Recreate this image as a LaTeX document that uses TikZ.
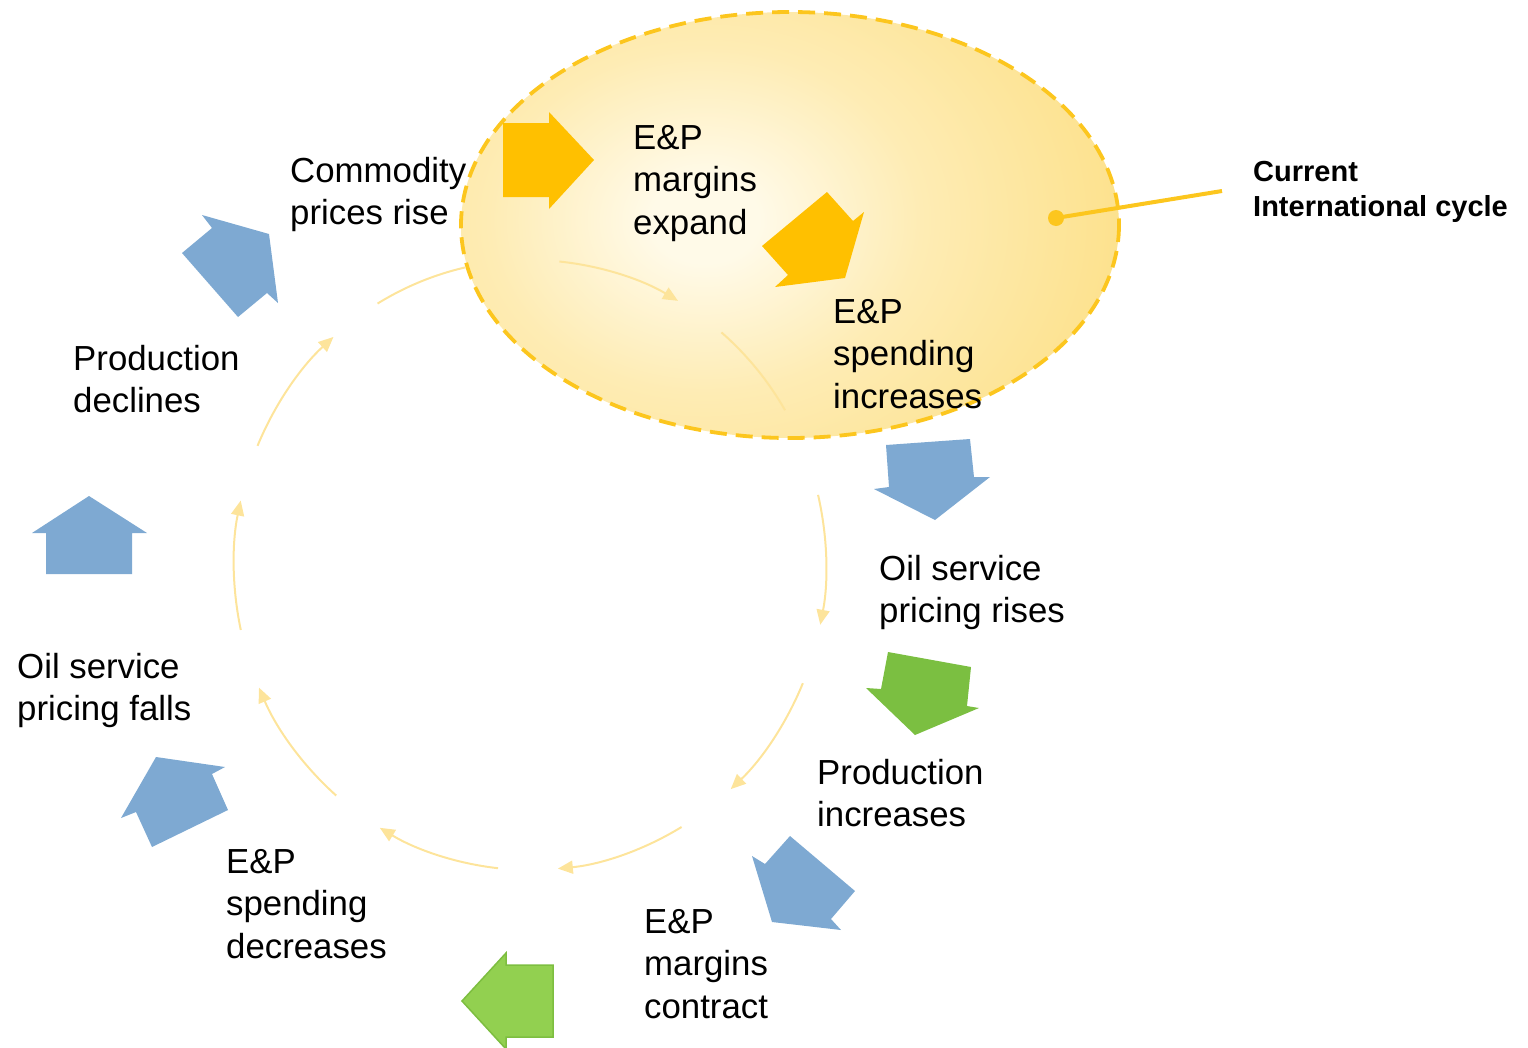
\documentclass[tikz,border=0pt]{standalone}
\usepackage{fontspec}
\setmainfont{Liberation Sans}
\usetikzlibrary{arrows.meta}

\definecolor{glowin}{RGB}{255,250,232}
\definecolor{glowmid}{RGB}{254,236,180}
\definecolor{glowout}{RGB}{252,223,132}
\definecolor{rim}{RGB}{252,198,30}
\definecolor{ring}{RGB}{253,228,155}
\definecolor{steel}{RGB}{126,169,210}
\definecolor{amber}{RGB}{255,192,0}
\definecolor{leaf}{RGB}{123,191,65}
\definecolor{lime}{RGB}{146,208,80}
\definecolor{limeedge}{RGB}{125,190,64}

% soft glow for the highlighted ellipse
\pgfdeclareradialshading{glow}{\pgfpoint{0bp}{0bp}}{%
  color(0bp)=(glowin); color(3bp)=(glowin); color(12bp)=(glowmid); color(26bp)=(glowout); color(50bp)=(glowout)}

\tikzset{
  lbl/.style={anchor=north west, inner sep=0pt, align=left,
              font=\fontsize{34.8}{42.5}\selectfont},
  keylbl/.style={anchor=north west, inner sep=0pt, align=left,
              font=\fontsize{29}{35}\selectfont\bfseries},
  ringline/.style={draw=ring, line width=2pt},
  ringarrow/.style={ringline, -{Triangle[length=15pt,width=13pt]}},
}

\begin{document}
\begin{tikzpicture}[x=1pt,y=-1pt]
\useasboundingbox (0,0) rectangle (1528,1047);

% highlighted part of the cycle
\coordinate (focus) at (790,225);
\coordinate (glowspot) at (705,220);
\begin{scope}
  \clip (focus) ellipse[x radius=329, y radius=213];
  \shade[shading=glow] (glowspot) ++(-450,-360) rectangle ++(900,720);
\end{scope}
\draw[rim, line width=3.8pt, dash pattern=on 17pt off 9pt]
  (focus) ellipse[x radius=329, y radius=213];

% ring of thin arrows
\coordinate (hub) at (530,565);
\draw[ringline]  (hub) ++(239:296 and 305)   arc[start angle=239,   end angle=257.4, x radius=296, y radius=305];
\draw[ringarrow] (hub) ++(-84.3:296 and 305) arc[start angle=-84.3, end angle=-60,   x radius=296, y radius=305];
\draw[ringline]  (hub) ++(-49.7:296 and 305) arc[start angle=-49.7, end angle=-30.5, x radius=296, y radius=305];
\draw[ringarrow] (hub) ++(-13.3:296 and 305) arc[start angle=-13.3, end angle=11.3,  x radius=296, y radius=305];
\draw[ringarrow] (hub) ++(22.8:296 and 305)  arc[start angle=22.8,  end angle=47.3,  x radius=296, y radius=305];
\draw[ringarrow] (hub) ++(59.2:296 and 305)  arc[start angle=59.2,  end angle=84.6,  x radius=296, y radius=305];
\draw[ringarrow] (hub) ++(96.2:296 and 305)  arc[start angle=96.2,  end angle=120.5, x radius=296, y radius=305];
\draw[ringarrow] (hub) ++(130.9:296 and 305) arc[start angle=130.9, end angle=156.3, x radius=296, y radius=305];
\draw[ringarrow] (hub) ++(167.7:296 and 305) arc[start angle=167.7, end angle=192.2, x radius=296, y radius=305];
\draw[ringarrow] (hub) ++(203:296 and 305)   arc[start angle=203,   end angle=228.4, x radius=296, y radius=305];

% block arrows
\fill[amber] (503,123) -- (549,123) -- (549,112) -- (594,160) -- (549,209) -- (549,197) -- (503,197) -- cycle;
\fill[amber] (827,192) -- (853,221) -- (864,212) -- (845,278) -- (775,287) -- (788,275) -- (762,246) -- cycle;
\fill[steel] (886,445) -- (970,439) -- (974,477) -- (990,477) -- (935,520) -- (874,489) -- (889,487) -- cycle;
\fill[leaf]  (888,652) -- (971,667) -- (967,706) -- (979,708) -- (915,735) -- (866,688) -- (881,689) -- cycle;
\fill[steel] (790,836) -- (855,891) -- (831,919) -- (841,930) -- (772,922) -- (752,856) -- (765,864) -- cycle;
\filldraw[fill=lime, draw=limeedge, line width=1.5pt]
  (553,965) -- (506,965) -- (506,953) -- (462,1001) -- (506,1049) -- (506,1037) -- (553,1037) -- cycle;
\fill[steel] (156,757) -- (225,767) -- (212,774) -- (228,810) -- (152,847) -- (136,812) -- (121,818) -- cycle;
\fill[steel] (89,496) -- (147,533) -- (132,533) -- (132,574) -- (46,574) -- (46,533) -- (32,533) -- cycle;
\fill[steel] (182,253) -- (212,228) -- (202,215) -- (269,234) -- (278,303) -- (267,293) -- (238,317) -- cycle;

% stage labels
\node[lbl] (commodity)  at (290,157) {Commodity\\prices rise};
\node[lbl] (expand)     at (633,125) {E\&P\\margins\\expand};
\node[lbl] (spendup)    at (833,299) {E\&P\\spending\\increases};
\node[lbl] (svcup)      at (879,555) {Oil service\\pricing rises};
\node[lbl] (produp)     at (817,759) {Production\\increases};
\node[lbl] (contract)   at (644,909) {E\&P\\margins\\contract};
\node[lbl] (spenddown)  at (226,849) {E\&P\\spending\\decreases};
\node[lbl] (svcdown)    at (17,653)  {Oil service\\pricing falls};
\node[lbl] (proddown)   at (73,345)  {Production\\declines};

% call-out for the highlighted part
\node[keylbl] (current) at (1253,161) {Current\\International cycle};
\coordinate (dot) at (1056,218);
\coordinate (leadend) at (1222,191);
\draw[rim, line width=4pt] (dot) -- (leadend);
\fill[rim] (dot) circle[radius=8pt];
\end{tikzpicture}
\end{document}
